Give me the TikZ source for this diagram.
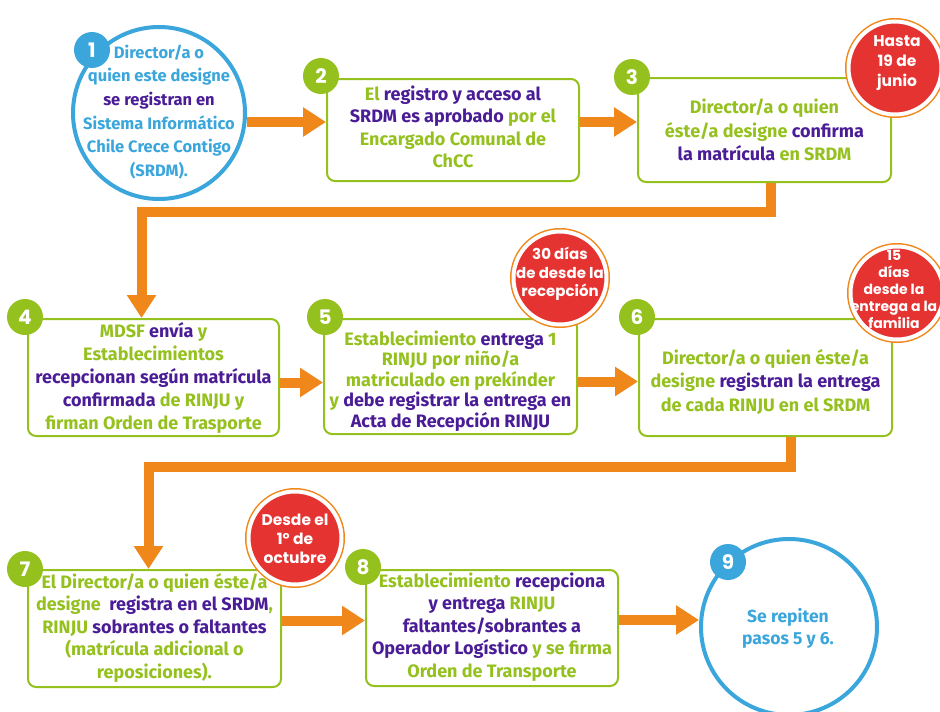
\documentclass[tikz,border=0pt]{standalone}
\usepackage{fontspec}
\setmainfont{Fira Sans}
\newfontfamily\popf{Poppins}
\usetikzlibrary{arrows.meta}
\definecolor{cblue}{HTML}{3AA6DB}
\definecolor{cgreen}{HTML}{95C11F}
\definecolor{cpurple}{HTML}{4A1C96}
\definecolor{corange}{HTML}{F0871B}
\definecolor{cred}{HTML}{E53332}
\newcommand{\ptx}[1]{\textcolor{cpurple}{#1}}
\newcommand{\boxfont}{\fontsize{18}{22.5}\selectfont\bfseries}
\begin{document}
\begin{tikzpicture}[x=1pt,y=-1pt,
  stepbox/.style={draw=cgreen, line width=2pt, rounded corners=8pt, fill=white,
    align=center, text=cgreen, font=\boxfont, inner sep=0pt},
  boxtext/.style={align=center, text=cgreen, font=\boxfont, inner sep=0pt},
  roundc/.style={circle, draw=cblue, line width=4pt, fill=white, inner sep=0pt},
  ctext/.style={align=center, text=cblue, inner sep=0pt,
    font=\fontsize{16.5}{23.7}\selectfont\bfseries},
  badge/.style={circle, fill=cgreen, text=white, minimum size=36pt, inner sep=0pt,
    font=\popf\bfseries\fontsize{20}{20}\selectfont},
  bluebadge/.style={badge, fill=cblue},
  redc/.style={circle, fill=cred, draw=white, line width=4pt, minimum size=93pt,
    inner sep=0pt, preaction={draw=corange, line width=7pt}},
  redtext/.style={align=center, text=white, inner sep=0pt,
    font=\popf\bfseries\fontsize{15}{18.5}\selectfont},
  arr/.style={draw=corange, line width=10pt, line join=miter,
    -{Triangle[width=28pt,length=23pt]}}
]
\clip (0,0) rectangle (940,712);
\fill[white] (0,0) rectangle (940,712);

% step 1
\node[roundc, minimum size=172pt] (c1) at (159,113) {};
\node[ctext] (c1t) at (159,112) {Director/a o\\ quien este designe\\ \ptx{se registran en}\\ Sistema Informático\\ Chile Crece Contigo\\ (SRDM).};

% boxes
\node[stepbox, minimum width=252pt, minimum height=102pt] (b2) at (453,130) {};
\node[boxtext] (b2t) at (453,127)
  {El \ptx{registro y acceso al}\\ \ptx{SRDM es aprobado} por el\\ Encargado Comunal de\\ ChCC};
\node[stepbox, minimum width=253pt, minimum height=104pt] (b3) at (764.5,130) {};
\node[boxtext, font=\fontsize{18}{23.3}\selectfont\bfseries] (b3t) at (764.5,130)
  {Director/a o quien\\ éste/a designe \ptx{confirma}\\ \ptx{la matrícula} en SRDM};
\node[stepbox, minimum width=251pt, minimum height=117pt] (b4) at (153.5,377.5) {};
\node[boxtext, font=\fontsize{18}{23}\selectfont\bfseries] (b4t) at (153.5,377.5)
  {MDSF \ptx{envía} y\\ Establecimientos\\ \ptx{recepcionan según matrícula}\\ \ptx{confirmada} de RINJU y\\ firman Orden de Trasporte};
\node[stepbox, minimum width=253pt, minimum height=115pt] (b5) at (450.5,376.5) {};
\node[boxtext, font=\fontsize{18}{20.5}\selectfont\bfseries] (b5t) at (450.5,381)
  {Establecimiento \ptx{entrega} 1\\ RINJU por niño/a\\ matriculado en prekínder\\ y \ptx{debe registrar la entrega en}\\ \ptx{Acta de Recepción RINJU}};
\node[stepbox, minimum width=253pt, minimum height=117pt] (b6) at (765.5,377.5) {};
\node[boxtext, font=\fontsize{18}{23.5}\selectfont\bfseries] (b6t) at (765.5,382)
  {Director/a o quien éste/a\\ designe \ptx{registran la entrega}\\ de cada RINJU en el SRDM};
\node[stepbox, minimum width=253pt, minimum height=117pt] (b7) at (154.5,628.5) {};
\node[boxtext] (b7t) at (154.5,627.5)
  {El Director/a o quien éste/a\\ designe\ \ \ptx{registra en el SRDM},\\ RINJU \ptx{sobrantes o faltantes}\\ (matrícula adicional o\\ reposiciones).};
\node[stepbox, minimum width=252pt, minimum height=116pt] (b8) at (492,628) {};
\node[boxtext] (b8t) at (492,627)
  {Establecimiento \ptx{recepciona}\\ \ptx{y entrega} RINJU\\ \ptx{faltantes/sobrantes a}\\ \ptx{Operador Logístico} y se firma\\ Orden de Transporte};

% step 9
\node[roundc, minimum size=176pt] (c9) at (789,627) {};
\node[ctext, font=\fontsize{17.5}{22}\selectfont\bfseries] (c9t) at (788,628) {Se repiten\\ pasos 5 y 6.};

% connectors
\draw[arr] ([yshift=8pt]b2.west -| c1.east) -- ([yshift=8pt]b2.west);
\draw[arr] ([yshift=8pt]b2.east) -- ([yshift=8pt]b3.west);
\draw[arr] ([xshift=6pt]b3.south) -- ++(0,29) -| ([xshift=-12pt]b4.north);
\draw[arr] ([yshift=-5pt]b4.east) -- ([yshift=-5pt]b4.east -| b5.west);
\draw[arr] ([yshift=-5pt]b5.east) -- ([yshift=-5pt]b5.east -| b6.west);
\draw[arr] ([xshift=25pt]b6.south) -- ++(0,30) -| ([xshift=-6pt]b7.north);
\draw[arr] ([yshift=8pt]b7.east) -- ([yshift=8pt]b7.east -| b8.west);
\draw[arr] ([yshift=8pt]b8.east) -- ([yshift=8pt]b8.east -| c9.west);

% badges
\node[bluebadge] (n1) at (92,50) {1};
\node[badge] (n2) at (321,76) {2};
\node[badge] (n3) at (632,77) {3};
\node[badge] (n4) at (25,317) {4};
\node[badge] (n5) at (325,317) {5};
\node[badge] (n6) at (637,317) {6};
\node[badge] (n7) at (25,569) {7};
\node[badge] (n8) at (363,567) {8};
\node[bluebadge] (n9) at (728,562) {9};

% red deadline circles
\node[redc] (r1) at (895,68) {};
\node[redtext, font=\popf\bfseries\fontsize{15.5}{20}\selectfont] (r1t) at (897,63) {Hasta\\19 de\\junio};
\node[redc] (r2) at (560,278) {};
\node[redtext] (r2t) at (560,274) {30 días\\de desde la\\recepción};
\node[redc] (r3) at (897,293) {};
\node[redtext, font=\popf\bfseries\fontsize{14}{17}\selectfont] (r3t) at (894,289) {15\\días\\desde la\\entrega a la\\familia};
\node[redc] (r4) at (295,538) {};
\node[redtext, font=\popf\bfseries\fontsize{15.5}{19}\selectfont] (r4t) at (295,539) {Desde el\\1º de\\octubre};
\end{tikzpicture}
\end{document}
